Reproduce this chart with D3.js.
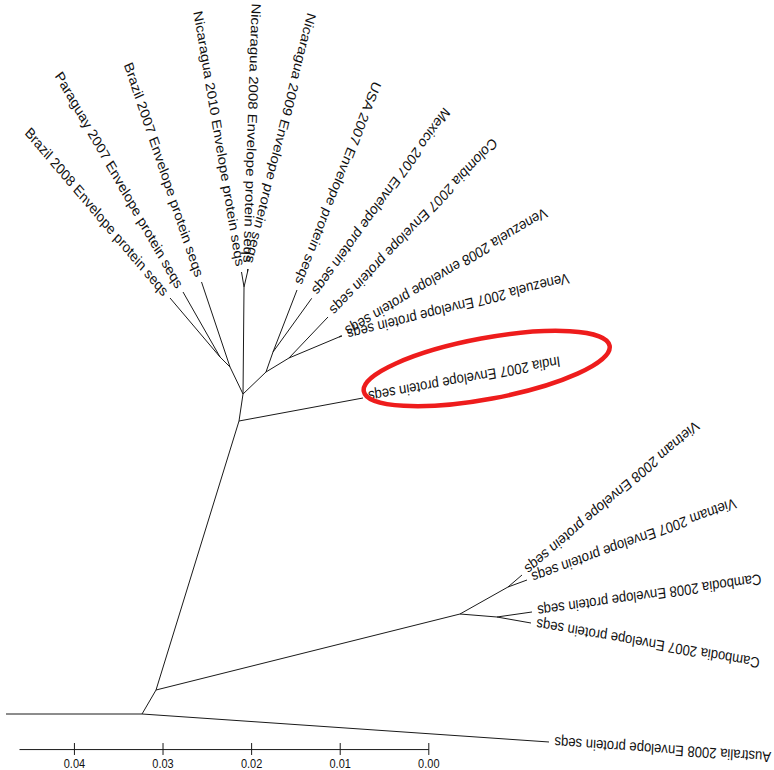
<!DOCTYPE html>
<html><head><meta charset="utf-8">
<script src="https://cdn.jsdelivr.net/npm/d3@7"></script>
<style>body{margin:0;background:#fff}svg{display:block}</style>
</head><body>
<script>
// ---- data: tree nodes (distance along scale bar, vertical spread in same units) ----
const nodeIds = ["A","L","Aus","B","D","E","V08","V07","F","C08","C07","C","India","G","Q","P","Br08","Par","Br07","N","Nic10","M","Nic08","Nic09","R","R2","USA","Mex","S","Col","VN","Ven08","Ven07"];
const nodeParents = [null,"A","A","A","B","D","E","E","D","F","F","B","C","C","G","Q","P","P","Q","G","N","N","M","M","G","R","R2","R2","R","S","S","VN","VN"];
const nodeDist = [0.032314,0.047664,-0.013623,0.030734,-0.003578,-0.008995,-0.010576,-0.011140,-0.007754,-0.011704,-0.011591,0.021366,0.007370,0.020914,0.022381,0.023510,0.029153,0.027686,0.025598,0.020801,0.021084,0.020406,0.020395,0.020324,0.018318,0.017528,0.014819,0.013160,0.015722,0.011321,0.010079,0.009789,0.009751];
const nodeLift = [0,0,-0.002748,0.002355,0.009814,0.012464,0.013642,0.013151,0.009520,0.010011,0.008931,0.028756,0.031014,0.031406,0.034056,0.035038,0.040828,0.041417,0.042399,0.041908,0.043380,0.043380,0.043675,0.043666,0.033566,0.035529,0.041614,0.040799,0.034940,0.038964,0.037000,0.037152,0.037073];
const tipLabels = ["","","Australia 2008 Envelope protein seqs","","","","Vietnam 2008 Envelope protein seqs","Vietnam 2007 Envelope protein seqs","","Cambodia 2008 Envelope protein seqs","Cambodia 2007 Envelope protein seqs","","India 2007 Envelope protein seqs","","","","Brazil 2008 Envelope protein seqs","Paraguay 2007 Envelope protein seqs","Brazil 2007 Envelope protein seqs","","Nicaragua 2010 Envelope protein seqs","","Nicaragua 2008 Envelope protein seqs","Nicaragua 2009 Envelope protein seqs","","","USA 2007 Envelope protein seqs","Mexico 2007 Envelope protein seqs","","Colombia 2007 Envelope protein seqs","","Venezuela 2008 envelope protein seqs","Venezuela 2007 Envelope protein seqs"];
const highlighted = "India";
const tickValues = [0.04,0.03,0.02,0.01,0.00];
const tickLabels = ["0.04","0.03","0.02","0.01","0.00"];

const W = 774, H = 770, SY = 1.15;
const svg = d3.select("body").append("svg").attr("width", W).attr("height", H);
const g = svg.append("g").attr("transform", `scale(1,${SY})`);

const x = d3.scaleLinear().domain([0, 0.0462]).range([428.3, 19]);
const y = d3.scaleLinear().domain([0, 0.05]).range([714 / SY, 714 / SY - 0.05 * 8860]);

const nodes = nodeIds.map((id, i) => ({id, parent: nodeParents[i], d: nodeDist[i], h: nodeLift[i], label: tipLabels[i]}));
const byId = new Map(nodes.map(n => [n.id, n]));
const links = nodes.filter(n => n.parent).map(n => ({s: byId.get(n.parent), t: n}));

g.append("g").selectAll("line").data(links).join("line")
  .attr("x1", l => x(l.s.d)).attr("y1", l => y(l.s.h))
  .attr("x2", l => x(l.t.d)).attr("y2", l => y(l.t.h))
  .attr("stroke", "#1a1a1a").attr("stroke-width", 1)
  .attr("vector-effect", "non-scaling-stroke");

const OFF = 5.5;
const labelled = links.filter(l => l.t.label);
g.append("g").selectAll("text").data(labelled).join("text")
  .attr("transform", l => {
    const dx = x(l.t.d) - x(l.s.d), dy = y(l.t.h) - y(l.s.h);
    const len = Math.hypot(dx, dy);
    const ang = Math.atan2(dy, dx) * 180 / Math.PI;
    const px = x(l.t.d) + OFF * dx / len, py = y(l.t.h) + OFF * dy / len;
    return `translate(${px},${py}) rotate(${ang + 180})`;
  })
  .attr("text-anchor", "end").attr("dy", "0.35em")
  .attr("font-family", "'Liberation Sans', Arial, sans-serif").attr("font-size", 13.1)
  .attr("fill", "#111")
  .text(l => l.t.label);

// scale bar axis
const ax = g.append("g").attr("transform", `translate(0,${749 / SY})`)
  .call(d3.axisBottom(x).tickValues(tickValues).tickFormat((d, i) => tickLabels[i]).tickSizeOuter(0));
ax.select(".domain").attr("stroke", "#1a1a1a").attr("vector-effect", "non-scaling-stroke");
ax.selectAll(".tick line").attr("y1", -5.2).attr("y2", 5.2).attr("stroke", "#1a1a1a").attr("vector-effect", "non-scaling-stroke");
ax.selectAll(".tick text").attr("y", 8.6).attr("font-family", "'Liberation Sans', Arial, sans-serif").attr("font-size", 11).attr("fill", "#111");

// red highlight ellipse round the highlighted tip label
const hl = links.find(l => l.t.id === highlighted);
{
  const tx = x(hl.t.d), ty = y(hl.t.h) * SY;
  const sx0 = x(hl.s.d), sy0 = y(hl.s.h) * SY;
  const dx = tx - sx0, dy = ty - sy0, len = Math.hypot(dx, dy);
  const ux = dx / len, uy = dy / len, px = -uy, py = ux;
  const cx = tx + 127 * ux - 6.4 * px, cy = ty + 127 * uy - 6.4 * py;
  const ang = Math.atan2(dy, dx) * 180 / Math.PI;
  svg.append("ellipse").attr("cx", 0).attr("cy", 0).attr("rx", 125).attr("ry", 30.5)
    .attr("transform", `translate(${cx},${cy}) rotate(${ang})`)
    .attr("fill", "none").attr("stroke", "#ee1c1c").attr("stroke-width", 4.5);
}
</script>
</body></html>
